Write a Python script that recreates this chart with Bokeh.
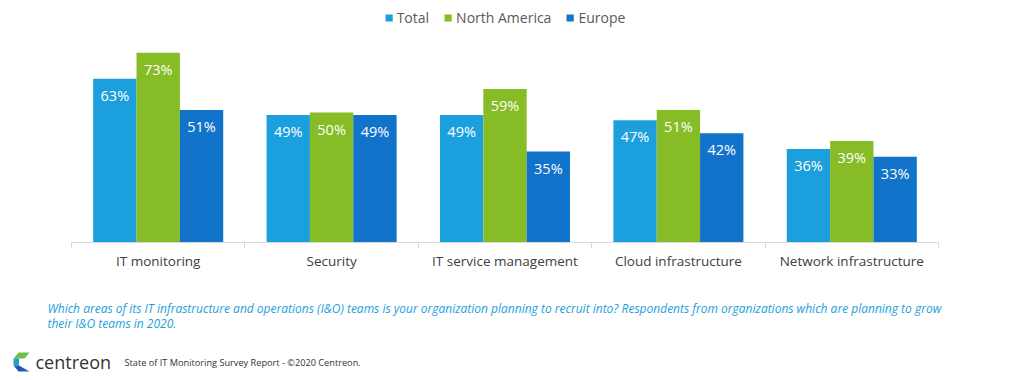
from bokeh.plotting import figure
from bokeh.models import (ColumnDataSource, FixedTicker, Range1d, Legend,
                          LegendItem, LabelSet)
from bokeh.core.properties import value
from bokeh.transform import dodge
from bokeh.embed import file_html
from bokeh.resources import INLINE

categories = ["IT monitoring", "Security", "IT service management",
              "Cloud infrastructure", "Network infrastructure"]
total = [63, 49, 49, 47, 36]
north_america = [73, 50, 59, 51, 39]
europe = [51, 49, 35, 42, 33]
series_names = ["Total", "North America", "Europe"]
colors = ["#1CA0DD", "#86BC25", "#1173CA"]
caption = ["Which areas of its IT infrastructure and operations (I&O) teams is your organization planning to recruit into? Respondents from organizations which are planning to grow",
           "their I&O teams in 2020."]
footer = "State of IT Monitoring Survey Report - \u00a92020 Centreon."
brand = "centreon"

centers = [i + 0.5 for i in range(len(categories))]
src = ColumnDataSource(dict(
    x=centers,
    total=total, na=north_america, eu=europe,
    total_l=[f"{v}%" for v in total],
    na_l=[f"{v}%" for v in north_america],
    eu_l=[f"{v}%" for v in europe],
))

W = 1024
p = figure(width=W, height=290, output_backend="svg", toolbar_location=None,
           x_range=Range1d(0, len(categories)), y_range=Range1d(0, 90),
           min_border_left=71, min_border_right=86, min_border_top=8,
           min_border_bottom=48)
p.outline_line_color = None
p.grid.visible = False
p.yaxis.visible = False

fields = [("total", "total_l"), ("na", "na_l"), ("eu", "eu_l")]
offsets = [-0.25, 0.0, 0.25]
renderers = []
for (f, fl), off, c in zip(fields, offsets, colors):
    r = p.vbar(x=dodge("x", off), top=f, width=0.25, bottom=0, source=src,
               fill_color=c, line_color=None)
    renderers.append(r)
    ls = LabelSet(x=dodge("x", off), y=f, text=fl, source=src,
                  text_align="center", text_baseline="top", y_offset=-7,
                  text_color="white", text_font_size="14.5px",
                  text_font=value("Open Sans"))
    p.add_layout(ls)

legend = Legend(items=[LegendItem(label=n, renderers=[r]) for n, r in zip(series_names, renderers)],
                location="top_center", orientation="horizontal",
                background_fill_alpha=0, border_line_color=None,
                label_text_font="Open Sans", label_text_font_size="14px",
                label_text_color="#595959", glyph_width=9, glyph_height=9,
                label_standoff=4, spacing=14, padding=0, margin=0,
                label_height=18)
p.add_layout(legend)

ax = p.xaxis[0]
ax.ticker = FixedTicker(ticks=centers, minor_ticks=list(range(len(categories) + 1)))
ax.major_label_overrides = {c: n for c, n in zip(centers, categories)}
ax.major_tick_out = 0
ax.major_tick_in = 0
ax.minor_tick_out = 6
ax.minor_tick_in = 0
ax.minor_tick_line_color = "#d9d9d9"
ax.axis_line_color = "#d9d9d9"
ax.major_label_text_font = "Open Sans"
ax.major_label_text_font_size = "13.5px"
ax.major_label_text_color = "#404040"
ax.major_label_standoff = 3

# footer figure: pixel coordinates, y downward
q = figure(width=W, height=90, output_backend="svg", toolbar_location=None,
           x_range=Range1d(0, W), y_range=Range1d(90, 0),
           min_border_left=0, min_border_right=0, min_border_top=0,
           min_border_bottom=0)
q.outline_line_color = None
q.grid.visible = False
q.axis.visible = False

q.text(x=[47, 47], y=[18, 33], text=caption, text_font=value("Open Sans"),
       text_font_style="italic", text_font_size="12px", text_color="#1CA0DD",
       text_baseline="middle")
q.text(x=[35], y=[71], text=[brand], text_font=value("Open Sans"),
       text_font_size="18px", text_color="#333333", text_baseline="middle")
q.text(x=[124], y=[72], text=[footer], text_font=value("Open Sans"),
       text_font_size="9.2px", text_color="#333333", text_baseline="middle")

logo_xs = [[18, 29, 24, 13], [13, 18.5, 18.5, 13], [13, 18.5, 29, 18]]
logo_ys = [[62, 62, 68, 68], [68, 68, 75, 75], [75, 75, 81, 81]]
logo_c = ["#6CC04A", "#1BA3C6", "#2458B8"]
q.patches(xs=logo_xs, ys=logo_ys, fill_color=logo_c, line_color=None)

open("out.html", "w").write(file_html([p, q], INLINE))
